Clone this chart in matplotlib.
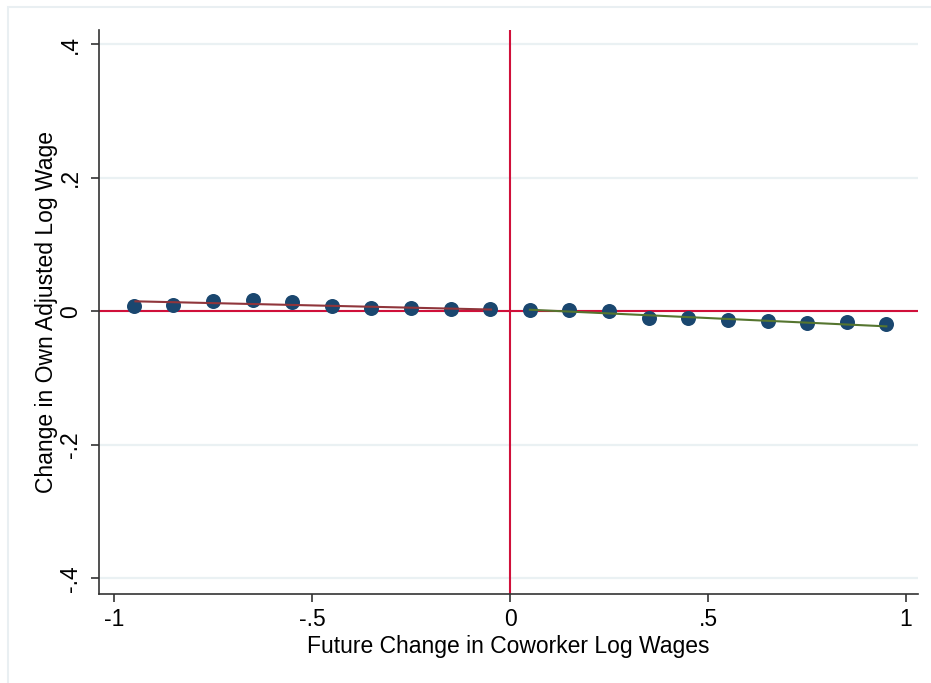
import matplotlib
matplotlib.use("Agg")
import matplotlib.pyplot as plt
import numpy as np
from matplotlib.patches import Rectangle

plt.rcParams['font.family'] = ['Liberation Sans', 'DejaVu Sans']

# Data (binned means)
x_left = [-0.95, -0.85, -0.75, -0.65, -0.55, -0.45, -0.35, -0.25, -0.15, -0.05]
y_left = [0.008, 0.010, 0.0155, 0.0165, 0.014, 0.0085, 0.005, 0.005, 0.003, 0.004]
x_right = [0.05, 0.15, 0.25, 0.35, 0.45, 0.55, 0.65, 0.75, 0.85, 0.95]
y_right = [0.0024, 0.0024, 0.0, -0.0095, -0.010, -0.013, -0.014, -0.0175, -0.0155, -0.0195]

# Fitted lines (endpoints)
fit_left_x = [-0.946, -0.048]
fit_left_y = [0.015, 0.0027]
fit_right_x = [0.05, 0.95]
fit_right_y = [0.0024, -0.0225]

xticks = [-1, -0.5, 0, 0.5, 1]
xticklabels = ['-1', '-.5', '0', '.5', '1']
yticks = [-0.4, -0.2, 0, 0.2, 0.4]
yticklabels = ['-.4', '-.2', '0', '.2', '.4']

W, H = 931, 683
fig = plt.figure(figsize=(W / 100, H / 100), dpi=100)
fig.patch.set_facecolor('white')
# outer frame
fig.patches.append(Rectangle((8 / W, -0.01), 1.1, 1 - 7 / H + 0.01, transform=fig.transFigure,
                             fill=False, edgecolor='#e9eff2', linewidth=1.5))

ax = fig.add_axes([99 / W, 1 - 594 / H, (918 - 99) / W, (594 - 30) / H])
ax.set_xlim(-1.038, 1.03)
ax.set_ylim(-0.4235, 0.4215)

grid_c = '#eaf1f3'
for yt in yticks:
    ax.axhline(yt, color=grid_c, lw=1.6, zorder=0)

red = '#d0103a'
ax.axhline(0, color=red, lw=1.5, zorder=1)
ax.axvline(0, color=red, lw=1.5, zorder=1)

ax.plot(x_left, y_left, 'o', color='#1a476f', markersize=10.8, zorder=3, markeredgewidth=0)
ax.plot(x_right, y_right, 'o', color='#1a476f', markersize=10.8, zorder=3, markeredgewidth=0)
ax.plot(fit_left_x, fit_left_y, color='#90353b', lw=1.5, zorder=4)
ax.plot(fit_right_x, fit_right_y, color='#55752f', lw=1.5, zorder=4)

for s in ['top', 'right']:
    ax.spines[s].set_visible(False)
for s in ['left', 'bottom']:
    ax.spines[s].set_color('#333333')
    ax.spines[s].set_linewidth(1.2)

ax.set_xticks(xticks)
ax.set_xticklabels(xticklabels, fontsize=16.5)
ax.set_yticks(yticks)
ax.set_yticklabels(yticklabels, fontsize=16.5, rotation=90, va='center')
ax.tick_params(axis='both', direction='out', length=6, width=1.2, color='#333333', pad=4)
ax.tick_params(axis='y', pad=6)

ax.set_xlabel('Future Change in Coworker Log Wages', fontsize=16.5, labelpad=3)
ax.set_ylabel('Change in Own Adjusted Log Wage', fontsize=16.5, labelpad=1)

fig.savefig('out.png', dpi=100)
